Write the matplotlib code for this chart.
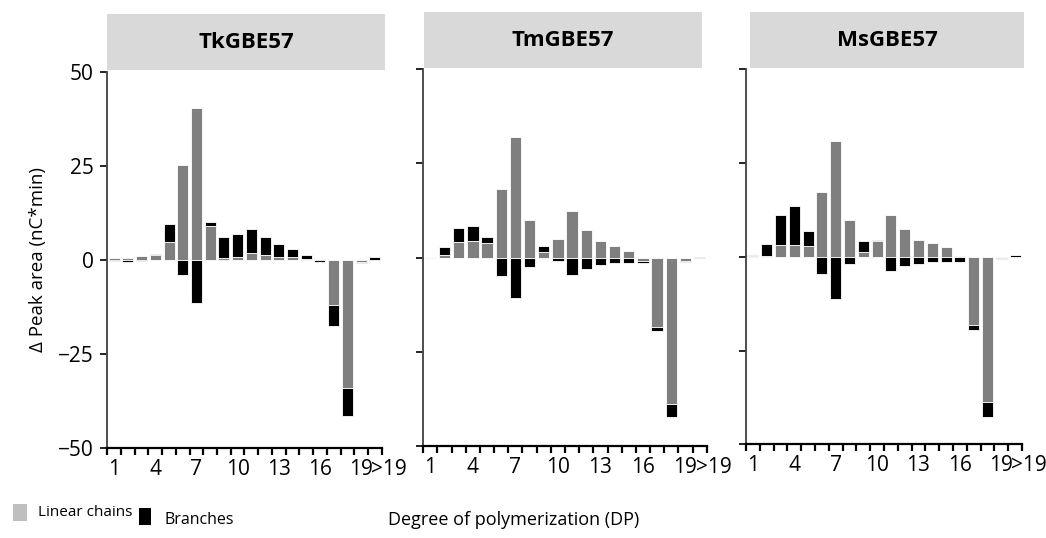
import matplotlib.pyplot as plt
import numpy as np
from matplotlib.patches import Rectangle

plt.rcParams['font.family'] = ['Open Sans', 'DejaVu Sans']

# degree of polymerization, 1..19 and >19
dp = np.arange(1, 21)
dp_ticks = [1, 4, 7, 10, 13, 16, 19, 19.72]
dp_labels = ['1', '4', '7', '10', '13', '16', '19', '>19']

enzymes = ['TkGBE57', 'TmGBE57', 'MsGBE57']

tk_linear = [0.3, 0.3, 1.0, 1.1, 4.7, 25.2, 40.4, 8.9, 0.5, 0.6,
             1.7, 1.2, 0.6, 0.6, 0.2, 0.2, -12.2, -34.1, -0.6, 0.0]
tk_branch = [-0.3, -0.6, -0.3, 0.4, 4.8, -4.2, -11.5, 1.0, 5.6, 6.2,
             6.5, 4.9, 3.5, 2.1, 1.1, -0.7, -5.6, -7.6, -0.4, 0.6]

tm_linear = [0.2, 0.7, 4.2, 4.5, 3.8, 18.3, 32.1, 10.1, 1.4, 4.9,
             12.5, 7.3, 4.5, 3.1, 1.8, -1.0, -18.4, -38.9, -0.9, 0.0]
tm_branch = [0.1, 2.1, 3.8, 3.8, 1.8, -4.8, -10.8, -2.5, 1.8, -0.9,
             -4.5, -2.9, -1.9, -1.5, -1.5, -0.3, -1.1, -3.3, -0.3, 0.3]

ms_linear = [0.3, 0.2, 3.1, 3.1, 2.8, 17.3, 31.0, 9.7, 1.4, 4.2,
             11.1, 7.3, 4.6, 3.6, 2.5, 0.2, -18.1, -38.7, -0.3, 0.0]
ms_branch = [0.3, 3.1, 8.0, 10.5, 4.2, -4.5, -11.3, -1.8, 2.8, 0.4,
             -3.8, -2.5, -1.9, -1.4, -1.4, -1.4, -1.4, -4.0, -0.2, 0.5]

linear_all = [tk_linear, tm_linear, ms_linear]
branch_all = [tk_branch, tm_branch, ms_branch]

W, H = 1046, 538
fig = plt.figure(figsize=(W / 100, H / 100), dpi=100)

# axes boxes in pixels: left, top, right, bottom
boxes = [(107.3, 71.7, 381.7, 447.5),
         (423.3, 69.3, 706.7, 446.0),
         (746.0, 69.3, 1022.0, 444.3)]
# header strips in pixels: left, top, right, bottom
headers = [(107, 14, 385, 70),
           (424, 12, 702, 68),
           (750, 12, 1024, 68)]

for i in range(3):
    l, t, r, b = boxes[i]
    ax = fig.add_axes([l / W, 1 - b / H, (r - l) / W, (b - t) / H])
    lin = np.array(linear_all[i])
    br = np.array(branch_all[i])
    bottom = np.where(np.sign(lin) == np.sign(br), lin, 0)
    ax.bar(dp, lin, width=0.8, color='#7f7f7f', edgecolor='white', linewidth=0.6)
    ax.bar(dp, br, width=0.8, bottom=bottom, color='black', edgecolor='white', linewidth=0.6)

    ax.set_xlim(0.5, 20.5)
    ax.set_ylim(-50, 50)
    ax.spines['top'].set_visible(False)
    ax.spines['right'].set_visible(False)
    ax.spines['left'].set_color('#404040')
    ax.spines['left'].set_linewidth(1.3)
    ax.spines['bottom'].set_linewidth(1.6)

    ax.set_yticks([-50, -25, 0, 25, 50])
    if i == 0:
        ax.set_yticklabels(['\u221250', '\u221225', '0', '25', '50'])
    else:
        ax.set_yticklabels([])
    ax.tick_params(axis='y', direction='out', length=5, width=1.2, labelsize=15, pad=5)

    ax.set_xticks(np.arange(0.5, 21, 1))
    ax.set_xticklabels([])
    ax.tick_params(axis='x', which='major', direction='out', length=5, width=1.6)
    ax.set_xticks(dp_ticks, dp_labels, minor=True)
    ax.tick_params(axis='x', which='minor', length=0, labelsize=15, pad=8)
    ax.get_xticklabels(minor=True)[-1].set_horizontalalignment('left')

    hl, ht, hr, hb = headers[i]
    fig.add_artist(Rectangle((hl / W, 1 - hb / H), (hr - hl) / W, (hb - ht) / H,
                             transform=fig.transFigure, facecolor='#d9d9d9',
                             edgecolor='none'))
    fig.text((hl + hr) / 2 / W, 1 - (ht + hb) / 2 / H, enzymes[i],
             ha='center', va='center', fontsize=16, fontweight='bold')

fig.text(38 / W, 1 - 259.6 / H, '\u0394 Peak area (nC*min)', rotation=90,
         ha='center', va='center', fontsize=13.5)
fig.text(514 / W, 1 - 520 / H, 'Degree of polymerization (DP)',
         ha='center', va='center', fontsize=13)

# legend
fig.add_artist(Rectangle((13 / W, 1 - 521 / H), 14 / W, 17 / H,
                         transform=fig.transFigure, facecolor='#bfbfbf', edgecolor='none'))
fig.text(38 / W, 1 - 512 / H, 'Linear chains', ha='left', va='center', fontsize=11)
fig.add_artist(Rectangle((139 / W, 1 - 525 / H), 12 / W, 17 / H,
                         transform=fig.transFigure, facecolor='black', edgecolor='none'))
fig.text(165 / W, 1 - 520 / H, 'Branches', ha='left', va='center', fontsize=11.5)

fig.savefig('out.png', dpi=100)
